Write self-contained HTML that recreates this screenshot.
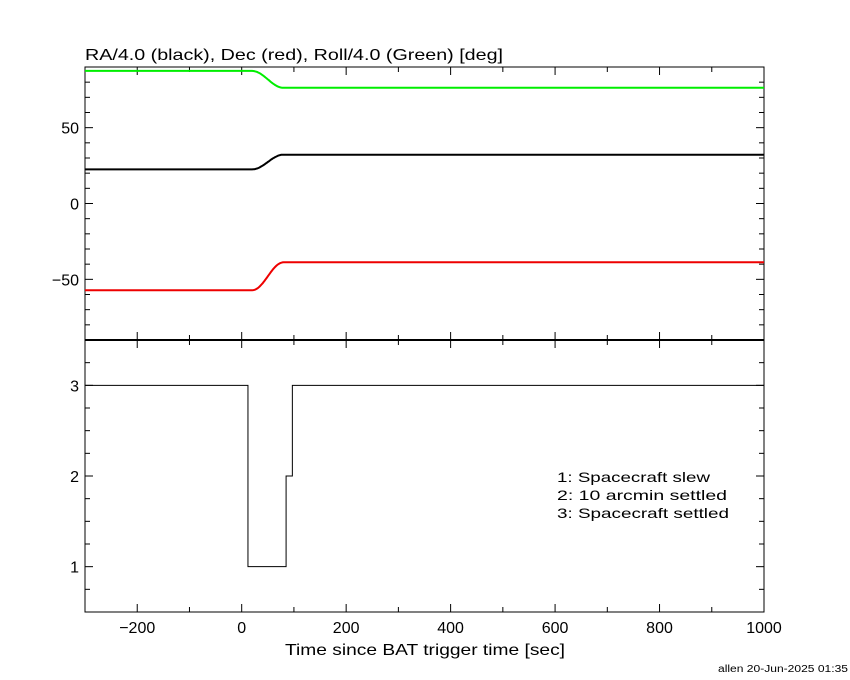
<!DOCTYPE html>
<html><head><meta charset="utf-8"><style>
html,body{margin:0;padding:0;background:#fff;}
svg{display:block;font-family:"Liberation Sans",sans-serif;}
</style></head><body>
<svg id="c" width="850" height="680" xmlns="http://www.w3.org/2000/svg">
<rect width="850" height="680" fill="#fff"/>
<text x="85" y="60" font-size="16" textLength="418" lengthAdjust="spacingAndGlyphs">RA/4.0 (black), Dec (red), Roll/4.0 (Green) [deg]</text>
<text x="285" y="655" font-size="16" textLength="280" lengthAdjust="spacingAndGlyphs">Time since BAT trigger time [sec]</text>
<text x="718" y="672" font-size="10" textLength="130" lengthAdjust="spacingAndGlyphs">allen 20-Jun-2025 01:35</text>
<text x="557" y="482" font-size="14" textLength="153" lengthAdjust="spacingAndGlyphs">1: Spacecraft slew</text>
<text x="557" y="500" font-size="14" textLength="170" lengthAdjust="spacingAndGlyphs">2: 10 arcmin settled</text>
<text x="557" y="518" font-size="14" textLength="172" lengthAdjust="spacingAndGlyphs">3: Spacecraft settled</text>
<g id="g"></g>
</svg>
<script>
const xTicks=[-200,0,200,400,600,800,1000];
const topTicks=[-50,0,50];
const botTicks=[1,2,3];
// attitude series: [value before slew, value after slew]
const raLevels=[22.5,32.2];
const decLevels=[-57.2,-38.8];
const rollLevels=[87.4,76.3];
const slewTimes=[20,80];
// mode steps: times and modes
const modeTimes=[-300,12,85,97,1000];
const modeVals=[3,1,2,3];

const X0=85,X1=764;
const sx=t=>X0+(t+300)/1300*(X1-X0);
const TY0=67,TY1=340,BY0=340,BY1=612;
const sy=v=>TY0+(90-v)/180*(TY1-TY0);
const by=v=>BY0+(3.5-v)/3*(BY1-BY0);
const g=document.getElementById('g');
const NS='http://www.w3.org/2000/svg';
function mk(tag,attrs){const e=document.createElementNS(NS,tag);for(const k in attrs)e.setAttribute(k,attrs[k]);g.appendChild(e);return e;}

let f1=mk('rect',{x:X0,y:TY0,width:X1-X0,height:TY1-TY0,fill:'none',stroke:'#000','stroke-width':1});


let f2=mk('rect',{x:X0,y:BY0,width:X1-X0,height:BY1-BY0,fill:'none',stroke:'#000','stroke-width':1});


let sep=mk('line',{x1:X0,x2:X1,y1:340,y2:340,stroke:'#000','stroke-width':2});



for(let t=-200;t<=900;t+=100){
  const x=sx(t), L=(t%200===0)?8:5;
  [[TY0,TY0+L],[TY1,TY1-L],[BY0,BY0+L],[BY1,BY1-L]].forEach(p=>{
    const l=mk('line',{x1:x,x2:x,y1:p[0],y2:p[1],stroke:'#000'});
    
    
  });
}
xTicks.forEach(t=>{
  const e=mk('text',{x:sx(t),y:633,'font-size':16,'text-anchor':'middle'});
  e.textContent=(t<0?'\u2212'+(-t):t);
  
  
});
for(let v=-80;v<=90;v+=10){
  const y=sy(v),L=(v%50===0)?8:5;
  [[X0,X0+L],[X1,X1-L]].forEach(p=>{
    const l=mk('line',{x1:p[0],x2:p[1],y1:y,y2:y,stroke:'#000'});
    
    
  });
}
topTicks.forEach(v=>{
  const e=mk('text',{x:79,y:sy(v)+6,'font-size':16,'text-anchor':'end'});
  e.textContent=(v<0?'\u2212'+(-v):v);
  
  
});
for(let v=0.75;v<=3.5;v+=0.25){
  const y=by(v),L=(Math.abs(v-Math.round(v))<1e-6)?8:5;
  [[X0,X0+L],[X1,X1-L]].forEach(p=>{
    const l=mk('line',{x1:p[0],x2:p[1],y1:y,y2:y,stroke:'#000'});
    
    
  });
}
botTicks.forEach(v=>{
  const e=mk('text',{x:79,y:by(v)+6,'font-size':16,'text-anchor':'end'});
  e.textContent=v;
  
  
});
function series(levels,color,name){
  const pts=[];
  for(let t=-300;t<=1000;t+=2){
    let f;
    if(t<=slewTimes[0])f=0;else if(t>=slewTimes[1])f=1;
    else{const u=(t-slewTimes[0])/(slewTimes[1]-slewTimes[0]);f=(1-Math.cos(Math.PI*u))/2;}
    pts.push(sx(t).toFixed(1)+','+sy(levels[0]+(levels[1]-levels[0])*f).toFixed(1));
  }
  const p=mk('polyline',{points:pts.join(' '),fill:'none',stroke:color,'stroke-width':2});
  
  
}
series(rollLevels,'#00ee00','roll-series');
series(raLevels,'#000','ra-series');
series(decLevels,'#ee0000','dec-series');
let d='M'+sx(modeTimes[0])+','+by(modeVals[0]);
for(let i=0;i<modeVals.length;i++){
  if(i>0)d+=' L'+sx(modeTimes[i])+','+by(modeVals[i]);
  d+=' L'+sx(modeTimes[i+1])+','+by(modeVals[i]);
}
const m=mk('path',{d:d,fill:'none',stroke:'#000','stroke-width':1});


</script>
</body></html>
